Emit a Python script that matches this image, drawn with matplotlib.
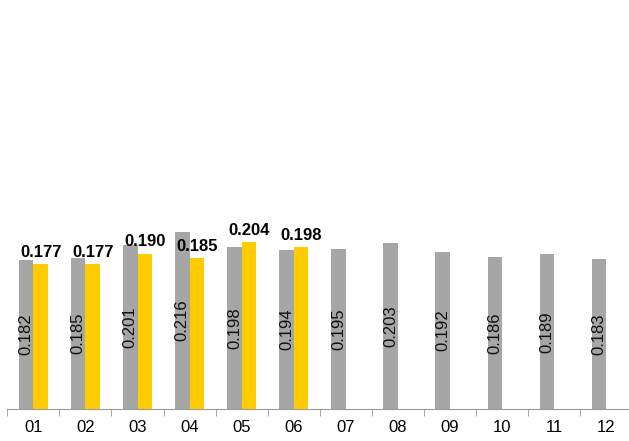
import numpy as np
import matplotlib.pyplot as plt

plt.rcParams['font.family'] = ['Liberation Sans', 'DejaVu Sans']

months = ['01', '02', '03', '04', '05', '06', '07', '08', '09', '10', '11', '12']
gray_vals = [0.182, 0.185, 0.201, 0.216, 0.198, 0.194, 0.195, 0.203, 0.192, 0.186, 0.189, 0.183]
yellow_vals = [0.177, 0.177, 0.190, 0.185, 0.204, 0.198]

gray_col = '#A6A6A6'
yellow_col = '#FFCC00'
w = 0.28

fig = plt.figure(figsize=(6.29, 4.41), dpi=100)
ax = fig.add_axes([7.3 / 629, (441 - 409) / 441, 625 / 629, 409 / 441])

x = np.arange(len(months))
gb = ax.bar(x - w / 2, gray_vals, w, color=gray_col)
yb = ax.bar(x[:len(yellow_vals)] + w / 2, yellow_vals, w, color=yellow_col)

for rect, v in zip(gb, gray_vals):
    ax.text(rect.get_x() + rect.get_width() / 2, v / 2, f'{v:.3f}',
            rotation=90, ha='center', va='center', fontsize=12, color='#111111')
for rect, v in zip(yb, yellow_vals):
    ax.text(rect.get_x() + rect.get_width() / 2, v + 0.005, f'{v:.3f}',
            ha='center', va='bottom', fontsize=12, fontweight='bold', color='black')

ax.set_xlim(-0.5, len(months) - 0.5)
ax.set_ylim(0, 0.5)
ax.set_xticks(x)
ax.set_xticklabels(months, fontsize=12)
ax.set_xticks(np.arange(-0.5, len(months), 1), minor=True)
ax.tick_params(axis='x', which='major', length=0, pad=8)
ax.tick_params(axis='x', which='minor', length=5, color='#999999', direction='out')
ax.set_yticks([])
for s in ['top', 'right', 'left']:
    ax.spines[s].set_visible(False)
ax.spines['bottom'].set_color('#999999')

fig.savefig('out.png', dpi=100)
